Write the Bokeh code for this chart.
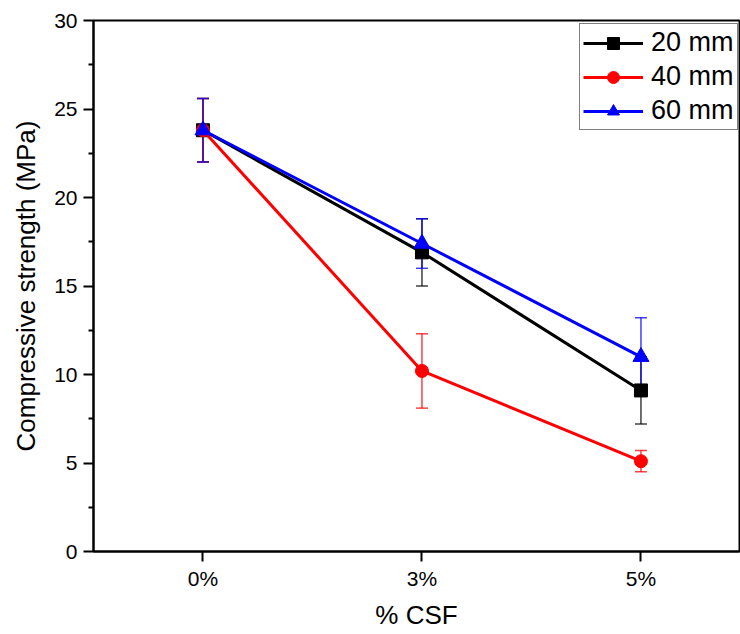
from bokeh.plotting import figure
from bokeh.models import Range1d, FixedTicker, Whisker, TeeHead, ColumnDataSource, Legend, LegendItem
from bokeh.embed import file_html
from bokeh.resources import INLINE

categories = ["0%", "3%", "5%"]
x_pos = [0, 1, 2]
s20 = [23.8, 16.9, 9.1]
e20 = [1.8, 1.9, 1.9]
s40 = [23.8, 10.2, 5.1]
e40 = [1.8, 2.1, 0.6]
s60 = [23.8, 17.4, 11.0]
e60 = [1.8, 1.4, 2.2]
y_ticks = [0, 5, 10, 15, 20, 25, 30]
y_minor = [2.5, 7.5, 12.5, 17.5, 22.5, 27.5]

FONT = "Liberation Sans"

p = figure(width=740, height=634, output_backend="svg", toolbar_location=None,
           x_range=Range1d(-0.5, 2.45), y_range=Range1d(0, 30),
           min_border_left=93, min_border_right=1, min_border_top=20, min_border_bottom=83)
p.grid.visible = False
p.outline_line_color = "black"
p.outline_line_width = 2
p.background_fill_color = "white"
p.border_fill_color = "white"

p.xaxis.ticker = FixedTicker(ticks=x_pos)
p.xaxis.major_label_overrides = {x: c for x, c in zip(x_pos, categories)}
p.yaxis.ticker = FixedTicker(ticks=y_ticks, minor_ticks=y_minor)
for ax in (p.xaxis, p.yaxis):
    ax.axis_line_width = 2
    ax.major_tick_line_width = 2
    ax.minor_tick_line_width = 2
    ax.major_tick_in = 0
    ax.major_tick_out = 10
    ax.minor_tick_in = 0
    ax.minor_tick_out = 5
    ax.major_label_text_font = FONT
    ax.major_label_text_font_size = "21px"
    ax.major_label_text_color = "black"
    ax.axis_label_text_font = FONT
    ax.axis_label_text_font_size = "26px"
    ax.axis_label_text_font_style = "normal"
    ax.axis_label_text_color = "black"
p.xaxis.minor_tick_out = 0
p.xaxis.major_label_standoff = 5
p.yaxis.major_label_standoff = 6
p.xaxis.axis_label = "% CSF"
p.yaxis.axis_label = "Compressive strength (MPa)"
p.xaxis.axis_label_standoff = 7
p.yaxis.axis_label_standoff = 10

series = [(s20, e20, "black", "square", 13, "20 mm"),
          (s40, e40, "red", "circle", 13, "40 mm"),
          (s60, e60, "blue", "triangle", 16, "60 mm")]

items = []
for vals, errs, col, mk, sz, lab in series:
    src = ColumnDataSource(dict(x=x_pos, y=vals,
                                lo=[v - e for v, e in zip(vals, errs)],
                                hi=[v + e for v, e in zip(vals, errs)]))
    w = Whisker(base="x", upper="hi", lower="lo", source=src,
                line_color=col, line_width=1.5, line_alpha=0.75,
                upper_head=TeeHead(size=12, line_color=col, line_width=1.5, line_alpha=0.75),
                lower_head=TeeHead(size=12, line_color=col, line_width=1.5, line_alpha=0.75))
    p.add_layout(w)
    r1 = p.line("x", "y", source=src, line_color=col, line_width=3)
    r2 = p.scatter("x", "y", source=src, marker=mk, size=sz, fill_color=col, line_color=col)
    items.append(LegendItem(label=lab, renderers=[r1, r2]))

leg = Legend(items=items, location=(486, 421))
leg.label_text_font = FONT
leg.label_text_font_size = "27px"
leg.label_text_color = "black"
leg.glyph_width = 60
leg.glyph_height = 30
leg.label_height = 30
leg.spacing = 3
leg.padding = 3
leg.margin = 0
leg.label_standoff = 8
leg.border_line_color = "black"
leg.border_line_width = 1
leg.background_fill_alpha = 1
p.add_layout(leg)

open("out.html", "w").write(file_html(p, INLINE))
